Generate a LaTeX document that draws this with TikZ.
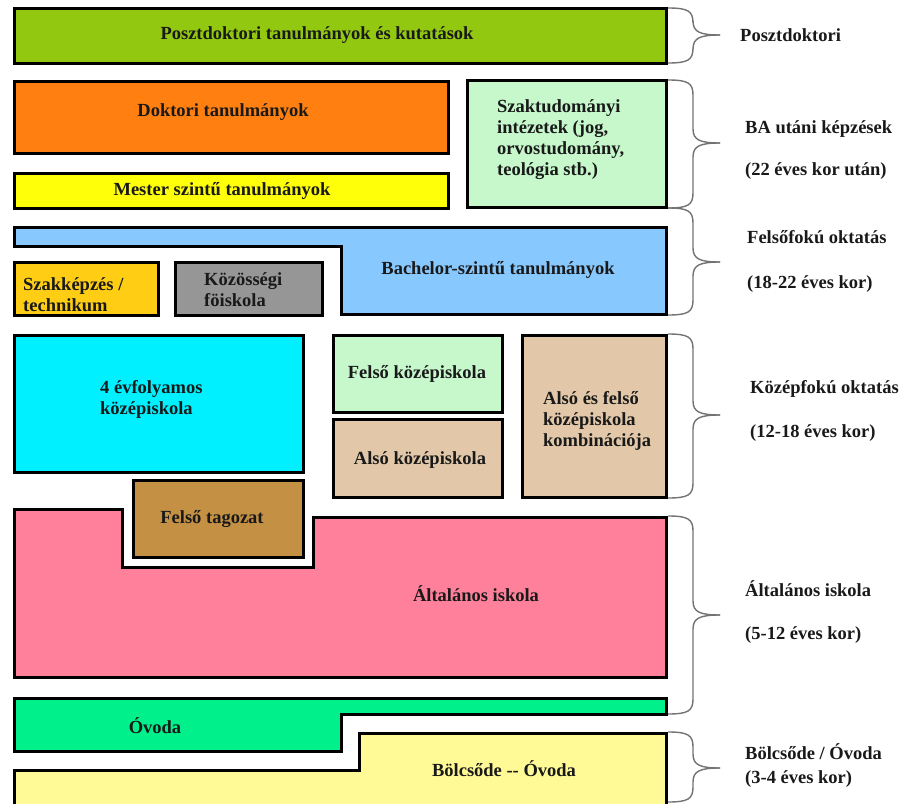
\documentclass[tikz,border=0pt]{standalone}
\usepackage{fontspec}
\setmainfont{Liberation Serif}[BoldFont={Liberation Serif Bold}]
\newfontfamily\tnr{Liberation Serif}[BoldFont={Liberation Serif Bold}]
\definecolor{cPost}{RGB}{146,200,16}
\definecolor{cDok}{RGB}{255,128,16}
\definecolor{cMes}{RGB}{255,255,10}
\definecolor{cSzak}{RGB}{198,248,204}
\definecolor{cBach}{RGB}{135,200,255}
\definecolor{cTech}{RGB}{255,206,20}
\definecolor{cKoz}{RGB}{150,150,150}
\definecolor{cNegy}{RGB}{0,240,255}
\definecolor{cTan}{RGB}{226,200,168}
\definecolor{cTag}{RGB}{196,144,68}
\definecolor{cAlt}{RGB}{255,128,154}
\definecolor{cOvo}{RGB}{0,240,140}
\definecolor{cBol}{RGB}{255,250,150}
\newcommand\ebrace[3]{%
  \draw[bracestyle] (668,#1) .. controls (688,#1) and (693,#1+3) .. (693,#1+15)
    -- (693,#3-14) .. controls (693,#3-3) and (700,#3) .. (720,#3);
  \draw[bracestyle] (720,#3) .. controls (700,#3) and (693,#3+3) .. (693,#3+14)
    -- (693,#2-15) .. controls (693,#2-3) and (688,#2) .. (668,#2);
}
\begin{document}
\begin{tikzpicture}[x=1pt,y=-1pt,
  box/.style={draw=black, line width=3pt, line join=miter},
  txt/.style={font=\tnr\bfseries\fontsize{18.5}{21}\selectfont, inner sep=0pt, text=black!90},
  mtxt/.style={txt, align=left, anchor=west},
  bracestyle/.style={draw=black!55, line width=1.4pt}]
\useasboundingbox (0,0) rectangle (907,803);
\begin{scope}
\clip (0,0) rectangle (907,803);
% boxes
\filldraw[box, fill=cPost] (14,8) rectangle (666,63);
\filldraw[box, fill=cDok] (14,81) rectangle (448,153);
\filldraw[box, fill=cMes] (14,173) rectangle (448,208);
\filldraw[box, fill=cSzak] (467,80) rectangle (666,207);
\filldraw[box, fill=cBach] (14,227) -- (666,227) -- (666,314) -- (341,314) -- (341,246) -- (14,246) -- cycle;
\filldraw[box, fill=cTech] (14,262) rectangle (158,315);
\filldraw[box, fill=cKoz] (175,262) rectangle (322,315);
\filldraw[box, fill=cNegy] (14,335) rectangle (303,472);
\filldraw[box, fill=cSzak] (333,335) rectangle (502,412);
\filldraw[box, fill=cTan] (333,419) rectangle (502,497);
\filldraw[box, fill=cTan] (522,335) rectangle (666,497);
\filldraw[box, fill=cTag] (133,480) rectangle (303,557);
\filldraw[box, fill=cAlt] (14,509) -- (122,509) -- (122,567) -- (313,567) -- (313,517) -- (666,517) -- (666,677) -- (14,677) -- cycle;
\filldraw[box, fill=cOvo] (14,698) -- (666,698) -- (666,714) -- (341,714) -- (341,751) -- (14,751) -- cycle;
\filldraw[box, fill=cBol] (14,812) -- (14,770) -- (359,770) -- (359,733) -- (666,733) -- (666,812) -- cycle;
% braces
\ebrace{8}{63}{35}
\ebrace{80}{208}{143}
\ebrace{208}{315}{262}
\ebrace{334}{498}{415}
\ebrace{516}{714}{615}
\ebrace{732}{802}{768}
\end{scope}
% box texts
\node[txt] (post) at (317,35) {Posztdoktori tanulmányok és kutatások};
\node[txt] (dok) at (223,112) {Doktori tanulmányok};
\node[txt] (mes) at (222,191) {Mester szintű tanulmányok};
\node[mtxt] (szak) at (497,140) {Szaktudományi\\intézetek (jog,\\orvostudomány,\\teológia stb.)};
\node[txt] (bach) at (498,270) {Bachelor-szintű tanulmányok};
\node[mtxt] (tech) at (23,295) {Szakképzés /\\technikum};
\node[mtxt] (koz) at (204,290) {Közösségi\\föiskola};
\node[mtxt] (negy) at (100,399) {4 évfolyamos\\középiskola};
\node[txt] (felsok) at (417,374) {Felső középiskola};
\node[txt] (alsok) at (420,460) {Alsó középiskola};
\node[mtxt] (komb) at (543,421) {Alsó és felső\\középiskola\\kombinációja};
\node[txt] (tag) at (212,519) {Felső tagozat};
\node[txt] (alt) at (476,594) {Általános iskola};
\node[txt] (ovo) at (155,726) {Óvoda};
\node[txt] (bol) at (504,769) {Bölcsőde {-}{-} Óvoda};
% right labels
\node[mtxt] (l1) at (740,35) {Posztdoktori};
\node[mtxt] (l2) at (745,150) {BA utáni képzések\\[21pt](22 éves kor után)};
\node[mtxt] (l3) at (747,261) {Felsőfokú oktatás\\[24pt](18-22 éves kor)};
\node[mtxt] (l4) at (750,411) {Középfokú oktatás\\[23pt](12-18 éves kor)};
\node[mtxt] (l5) at (745,612) {Általános iskola\\[22pt](5-12 éves kor)};
\node[mtxt] (l6) at (745,766) {Bölcsőde / Óvoda\\[3pt](3-4 éves kor)};
\end{tikzpicture}
\end{document}
